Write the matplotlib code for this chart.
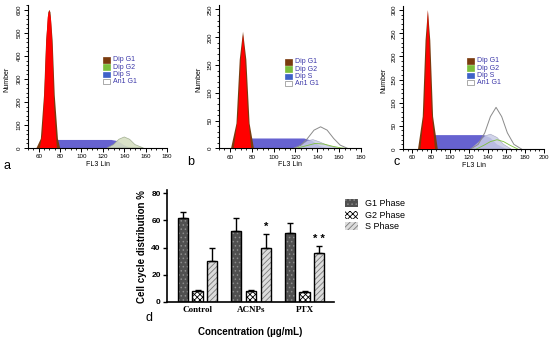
import matplotlib
matplotlib.use("Agg")
import matplotlib.pyplot as plt
from matplotlib.patches import Patch
from matplotlib.ticker import MultipleLocator
import numpy as np

plt.rcParams['font.family'] = ['Liberation Sans', 'DejaVu Sans']
plt.rcParams['hatch.linewidth'] = 0.6

# ---------------- flow cytometry panels ----------------
A_RED_X = [61, 63.5, 65.5, 67, 68.5, 70, 71.5, 73, 74.5, 77]
A_RED_Y = [0, 60, 250, 450, 570, 600, 560, 420, 180, 0]
A_G1_X = [58, 62, 65, 67, 69, 70, 71, 73, 75, 78, 80]
A_G1_Y = [0, 40, 230, 470, 590, 600, 590, 470, 230, 40, 0]
A_S_X = [60, 66, 76, 128, 134, 140, 146]
A_S_Y = [0, 15, 35, 35, 30, 12, 0]
A_G2_X = [124, 130, 135, 140, 145, 150, 158]
A_G2_Y = [0, 15, 38, 48, 38, 15, 0]

B_RED_X = [63.5, 67.5, 70, 72, 74, 76.5, 79.5]
B_RED_Y = [0, 60, 160, 205, 160, 60, 0]
B_G1_X = [61, 66, 69, 72, 75, 78, 82]
B_G1_Y = [0, 45, 160, 210, 160, 45, 0]
B_S_X = [63, 68, 76, 128, 135, 142, 150]
B_S_Y = [0, 8, 18, 18, 14, 5, 0]
B_LT_X = [118, 125, 131, 136, 142, 150, 160]
B_LT_Y = [0, 6, 14, 16, 12, 5, 0]
B_G2_X = [120, 130, 138, 146, 154, 162, 168]
B_G2_Y = [0, 5, 9, 8, 4, 1, 0]
B_AN_X = [118, 125, 131, 137, 143, 149, 155, 161, 168]
B_AN_Y = [0, 6, 18, 33, 39, 33, 18, 6, 0]

C_RED_X = [68.5, 72.5, 75, 76.5, 78, 80.5, 84]
C_RED_Y = [0, 80, 230, 300, 230, 80, 0]
C_G1_X = [66, 71, 74, 76.5, 79, 82, 87]
C_G1_Y = [0, 70, 235, 300, 235, 70, 0]
C_S_X = [70, 74, 82, 136, 143, 150, 160]
C_S_Y = [0, 12, 30, 30, 24, 10, 0]
C_LT_X = [122, 130, 137, 143, 150, 157, 165]
C_LT_Y = [0, 14, 28, 32, 25, 10, 0]
C_G2_X = [128, 136, 143, 150, 157, 164, 172]
C_G2_Y = [0, 8, 16, 20, 16, 8, 0]
C_AN_X = [122, 130, 137, 143, 149, 155, 161, 168, 176]
C_AN_Y = [0, 10, 35, 70, 90, 70, 35, 10, 0]

CYTO_LEGEND = ["Dip G1", "Dip G2", "Dip S", "An1 G1"]
PANEL_LABELS = ["a", "b", "c", "d"]

# ---------------- bar chart ----------------
CATEGORIES = ["Control", "ACNPs", "PTX"]
PHASES = ["G1 Phase", "G2 Phase", "S Phase"]
G1_VALS = [62, 52, 51]
G1_ERR = [4, 10, 7]
G2_VALS = [8, 8, 7.5]
G2_ERR = [1, 1, 0.5]
S_VALS = [30, 40, 36]
S_ERR = [10, 10, 5]
SIG_MARKS = ["", "*", "* *"]

BROWN = '#7a3b0e'
GREEN = '#7cbf3c'
BLUE = '#4b46c8'
LEGTXT = '#3a36a8'

fig = plt.figure(figsize=(5.5, 3.37), dpi=100)

W, H = 550, 337
def ax_px(left, top, width, height):
    return fig.add_axes([left / W, 1 - (top + height) / H, width / W, height / H])

panels = [
    dict(rect=(28, 5.4, 139, 142.6), xlim=(50, 180), ylim=(0, 620), ymaj=100, ymin=20, ytop=600,
         red=(A_RED_X, A_RED_Y), g1=(A_G1_X, A_G1_Y), s=(A_S_X, A_S_Y),
         lt=None, g2=(A_G2_X, A_G2_Y), an=None, leg=(103, 57), lab=(3, 166), ylab_x=3),
    dict(rect=(219, 5, 142, 143.5), xlim=(50, 180), ylim=(0, 258), ymaj=50, ymin=10, ytop=250,
         red=(B_RED_X, B_RED_Y), g1=(B_G1_X, B_G1_Y), s=(B_S_X, B_S_Y),
         lt=(B_LT_X, B_LT_Y), g2=(B_G2_X, B_G2_Y), an=(B_AN_X, B_AN_Y), leg=(285, 59), lab=(187, 162), ylab_x=195),
    dict(rect=(403, 6, 141, 143), xlim=(50, 200), ylim=(0, 309), ymaj=50, ymin=10, ytop=300,
         red=(C_RED_X, C_RED_Y), g1=(C_G1_X, C_G1_Y), s=(C_S_X, C_S_Y),
         lt=(C_LT_X, C_LT_Y), g2=(C_G2_X, C_G2_Y), an=(C_AN_X, C_AN_Y), leg=(467, 58), lab=(394, 162), ylab_x=380),
]

for i, p in enumerate(panels):
    ax = ax_px(*p['rect'])
    ax.fill(*p['s'], color=BLUE, alpha=0.85, lw=0, zorder=1)
    if p['lt'] is not None:
        ax.fill(*p['lt'], color='#c9cde6', alpha=0.85, lw=0.4, ec='#9a9ab8', zorder=2)
    if i == 0:
        ax.fill(*p['g2'], color='#d6dfc2', alpha=0.9, lw=0.5, ec='#9aa88a', zorder=2)
    else:
        ax.plot(*p['g2'], color=GREEN, lw=0.6, zorder=3)
    if p['an'] is not None:
        ax.plot(*p['an'], color='#8a8a8a', lw=0.7, zorder=4)
    ax.fill(*p['g1'], color=BROWN, lw=0, zorder=5)
    ax.fill(*p['red'], color='#ff0000', lw=0, zorder=6)
    for sp in ['top', 'right']:
        ax.spines[sp].set_visible(False)
    for sp in ['left', 'bottom']:
        ax.spines[sp].set_linewidth(0.8)
    ax.set_xticks(np.arange(60, p['xlim'][1] + 1, 20))
    ax.set_yticks(np.arange(0, p['ytop'] + 1, p['ymaj']))
    ax.xaxis.set_minor_locator(MultipleLocator(5))
    ax.yaxis.set_minor_locator(MultipleLocator(p['ymin']))
    ax.set_xlim(*p['xlim'])
    ax.set_ylim(*p['ylim'])
    ax.tick_params(which='major', length=3, width=0.7, labelsize=4.5, pad=1.5)
    ax.tick_params(which='minor', length=1.6, width=0.6)
    for lbl in ax.get_yticklabels():
        lbl.set_rotation(90)
        lbl.set_va('center')
    ax.set_xlabel("FL3 Lin", fontsize=5, labelpad=1)
    ax.set_facecolor('none')
    # y label
    l, t, w, h = p['rect']
    fig.text(p['ylab_x'] / W, 1 - (t + h / 2 + 3) / H, "Number", rotation=90, fontsize=5,
             ha='left', va='center')
    # legend boxes
    lx, ly = p['leg']
    cols = [BROWN, GREEN, '#3f62c8', 'white']
    for k, (name, c) in enumerate(zip(CYTO_LEGEND, cols)):
        y0 = ly + k * 7.3
        fig.patches.append(plt.Rectangle((lx / W, 1 - (y0 + 5.5) / H), 7 / W, 5.5 / H,
                                         transform=fig.transFigure, fc=c,
                                         ec='#888888' if c == 'white' else c, lw=0.5))
        fig.text((lx + 10) / W, 1 - (y0 + 2.9) / H, name, fontsize=5, color=LEGTXT,
                 ha='left', va='center')
    fig.text(p['lab'][0] / W, 1 - p['lab'][1] / H, PANEL_LABELS[i], fontsize=9,
             ha='left', va='center')

# ---------------- bar chart panel d ----------------
axd = ax_px(167, 190.3, 167, 111.7)
x = np.arange(len(CATEGORIES))
off = 0.274
bw = 0.19
styles = [
    dict(fc='#505050', hc='#8c8c8c', hatch='....'),
    dict(fc='white', hc='black', hatch='xxxxxx'),
    dict(fc='#dcdcdc', hc='#7a7a7a', hatch='//////'),
]
series = [(G1_VALS, G1_ERR), (G2_VALS, G2_ERR), (S_VALS, S_ERR)]
for j, ((vals, errs), st) in enumerate(zip(series, styles)):
    pos = x + (j - 1) * off
    axd.bar(pos, vals, width=bw, color=st['fc'], edgecolor=st['hc'], hatch=st['hatch'], lw=0, zorder=2)
    axd.bar(pos, vals, width=bw, fill=False, edgecolor='black', lw=1.0, zorder=3)
    axd.errorbar(pos, vals, yerr=[np.zeros(len(vals)), errs], fmt='none', ecolor='black',
                 elinewidth=1.0, capsize=2.5, capthick=1.0, zorder=4)
for k, m in enumerate(SIG_MARKS):
    if m:
        axd.text(x[k] + off, S_VALS[k] + S_ERR[k] + 1.5, m, ha='center', va='bottom',
                 fontsize=8, fontweight='bold')
axd.set_xlim(-0.57, 2.55)
axd.set_ylim(0, 82)
axd.set_yticks([0, 20, 40, 60, 80])
axd.set_xticks(x)
axd.set_xticklabels(CATEGORIES, fontsize=6.5, fontweight='bold', family='Liberation Serif')
for sp in ['top', 'right']:
    axd.spines[sp].set_visible(False)
for sp in ['left', 'bottom']:
    axd.spines[sp].set_linewidth(1.2)
axd.tick_params(axis='y', length=3, width=1.0, labelsize=6, pad=1.5)
axd.tick_params(axis='x', length=0, pad=3)
for lbl in axd.get_yticklabels():
    lbl.set_fontweight('bold')
axd.set_ylabel("Cell cycle distribution %", fontsize=7, fontweight='bold', labelpad=3)
axd.set_xlabel("Concentration (\u00b5g/mL)", fontsize=7, fontweight='bold', labelpad=9)

handles = [Patch(facecolor=st['fc'], edgecolor=st['hc'], hatch=st['hatch'], lw=0) for st in styles]
fig.legend(handles, PHASES, loc='upper left', bbox_to_anchor=(337 / W, 1 - 191 / H),
           frameon=False, fontsize=6.5, handlelength=1.4, handleheight=1.0,
           labelspacing=0.25, handletextpad=0.8)
fig.text(146 / W, 1 - 318 / H, PANEL_LABELS[3], fontsize=9, ha='left', va='center')

fig.savefig("out.png", dpi=100)
